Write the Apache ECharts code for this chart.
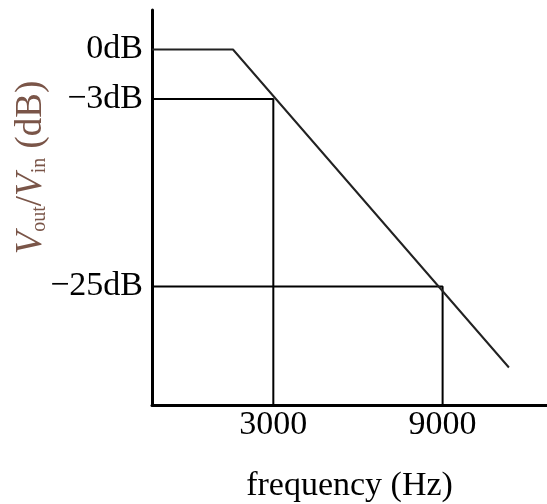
<!DOCTYPE html>
<html>
<head>
<meta charset="utf-8">
<script src="https://cdn.jsdelivr.net/npm/echarts@6/dist/echarts.min.js"></script>
<style>html,body{margin:0;padding:0;background:#fff;}#c{width:547px;height:504px;}</style>
</head>
<body>
<div id="c"></div>
<script>
// Schematic axis domains
const xMin = -1300;
const xMax = 12700;
const yMin = 0;
const yMax = 40;

// Tick labels
const xTickValues = [3000, 9000];
const xTickLabels = ['3000', '9000'];
const yTickLevels = [36, 31, 12];          // schematic vertical level of each dB mark
const yTickLabels = ['0dB', '\u22123dB', '\u221225dB'];

// Frequency response (schematic)
const responseX = [-1300, 1570, 11350];
const responseLevel = [36, 36, 3.8];

// Reference (drop) lines: frequency and level
const refX = [3000, 9000];
const refLevel = [31, 12];

const font = '"Liberation Serif", "DejaVu Serif", serif';

const series = [];
refX.forEach((fx, i) => {
  series.push({
    type: 'line', symbol: 'none', silent: true,
    data: [[xMin, refLevel[i]], [fx, refLevel[i]], [fx, yMin]],
    lineStyle: { color: '#000', width: 2 }
  });
});
series.push({
  type: 'line', symbol: 'none', silent: true,
  data: responseX.map((x, i) => [x, responseLevel[i]]),
  lineStyle: { color: '#222', width: 2 }
});

const chart = echarts.init(document.getElementById('c'), null, { renderer: 'canvas' });
chart.setOption({
  animation: false,
  backgroundColor: '#fff',
  grid: { left: 152, right: 0, top: 10, bottom: 99, containLabel: false, outerBoundsMode: 'none' },
  xAxis: {
    type: 'value', min: xMin, max: xMax,
    axisLine: { show: true, onZero: false, lineStyle: { color: '#000', width: 3 } },
    axisTick: { show: false },
    splitLine: { show: false },
    axisLabel: {
      customValues: xTickValues,
      formatter: v => xTickLabels[xTickValues.indexOf(v)] || '',
      fontFamily: font, fontSize: 34, color: '#000', margin: 3
    },
    name: 'frequency (Hz)', nameLocation: 'middle', nameGap: 64, nameMoveOverlap: false,
    nameTextStyle: { fontFamily: font, fontSize: 34, color: '#000' }
  },
  yAxis: {
    type: 'value', min: yMin, max: yMax,
    axisLine: { show: true, onZero: false, lineStyle: { color: '#000', width: 3 } },
    axisTick: { show: false },
    splitLine: { show: false },
    axisLabel: {
      customValues: yTickLevels,
      formatter: v => yTickLabels[yTickLevels.indexOf(v)] || '',
      fontFamily: font, fontSize: 34, color: '#000', margin: 9
    },
    name: '{v|V}{s|out}{n|/}{v|V}{s|in}{n| (dB)}',
    nameLocation: 'middle', nameRotate: 90, nameGap: 102, nameMoveOverlap: false,
    nameTextStyle: {
      fontFamily: font, fontSize: 37, color: '#7a5548',
      padding: [0, 0, 0, 80],
      rich: {
        v: { fontFamily: font, fontSize: 37, fontStyle: 'italic', color: '#7a5548' },
        s: { fontFamily: font, fontSize: 20, color: '#7a5548', verticalAlign: 'bottom', lineHeight: 37 },
        n: { fontFamily: font, fontSize: 37, color: '#7a5548' }
      }
    }
  },
  series: series
});
</script>
</body>
</html>
